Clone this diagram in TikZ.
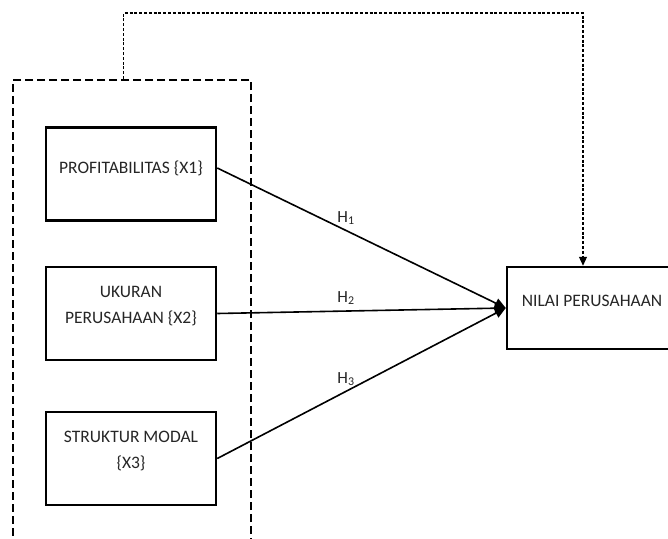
\documentclass[tikz,border=0pt]{standalone}
\usepackage{fontspec}
\setmainfont{Carlito}
\usetikzlibrary{arrows.meta}
\begin{document}
\begin{tikzpicture}[x=1pt,y=-1pt,
  box/.style={draw, line width=2.5pt, minimum width=170pt, minimum height=93pt, inner sep=0pt},
  lbl/.style={font=\fontsize{17.5}{26}\selectfont, align=center, inner sep=0pt, text=black!85},
  hlbl/.style={font=\fontsize{17}{20}\selectfont, inner sep=0pt, text=black!85},
  group/.style={draw, line width=2pt, dash pattern=on 8pt off 4pt, minimum width=238pt, minimum height=480pt, inner sep=0pt},
  link/.style={line width=1.6pt, -{Triangle[length=11pt,width=10pt]}},
  fb/.style={line width=1.1pt, dash pattern=on 3pt off 1.8pt, -{Triangle[length=9pt,width=8pt]}}]
\clip (0,0) rectangle (668,538);
\fill[white] (0,0) rectangle (668,538);
\node[group] (grp) at (132,320) {};
\node[box] (x1) at (131,174) {};
\node[box] (x2) at (131,313.5) {};
\node[box] (x3) at (131,458.5) {};
\node[box, minimum height=82pt] (ny) at (592,308) {};
\node[lbl] (t1) at (131,168) {PROFITABILITAS \{X1\}};
\node[lbl] (t2) at (131,306) {UKURAN\\PERUSAHAAN \{X2\}};
\node[lbl] (t3) at (131,451) {STRUKTUR MODAL\\\{X3\}};
\node[lbl] (ty) at (592,301) {NILAI PERUSAHAAN};
\node[hlbl] (h1) at (346,218) {H\textsubscript{1}};
\node[hlbl] (h2) at (346,298) {H\textsubscript{2}};
\node[hlbl] (h3) at (346,379) {H\textsubscript{3}};
\draw[link] (x1.east |- t1) -- (ny.west);
\draw[link] (x2.east) -- (ny.west);
\draw[link] (x3.east) -- (ny.west);
\draw[fb] ([xshift=-8.4pt]grp.north) -- ++(0,-66) -| ([xshift=-9pt]ny.north);
\end{tikzpicture}
\end{document}
